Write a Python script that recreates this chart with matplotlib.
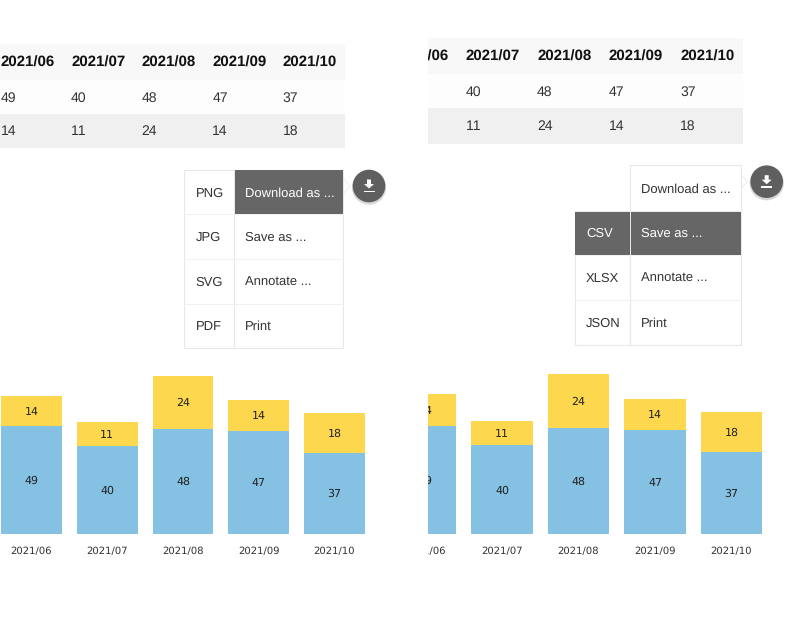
import matplotlib
matplotlib.use("Agg")
import matplotlib.pyplot as plt
from matplotlib.patches import Circle, Polygon, Rectangle

plt.rcParams['font.family'] = ['Liberation Sans', 'DejaVu Sans']
plt.rcParams['text.hinting'] = 'none'
plt.rcParams['text.hinting_factor'] = 1
plt.rcParams['text.kerning_factor'] = 6

months = ['2021/06', '2021/07', '2021/08', '2021/09', '2021/10']
blue_values = [49, 40, 48, 47, 37]
yellow_values = [14, 11, 24, 14, 18]

menu_left_left = ['PNG', 'JPG', 'SVG', 'PDF']
menu_right_left = ['', 'CSV', 'XLSX', 'JSON']
menu_actions = ['Download as ...', 'Save as ...', 'Annotate ...', 'Print']

BLUE = '#85c1e3'
YELLOW = '#fdd84f'
DARK = '#666666'
LINE = '#f1f1f1'

fig = plt.figure(figsize=(8, 6.19), dpi=100, facecolor='white')


def pixel_axes(x0, y0, x1, y1):
    # axes whose data coordinates are the pixels of the picture
    ax = fig.add_axes([x0 / 800, 1 - y1 / 619, (x1 - x0) / 800, (y1 - y0) / 619])
    ax.set_xlim(x0, x1)
    ax.set_ylim(y1, y0)
    ax.axis('off')
    return ax


def draw_table(x0, x1, top, rows, first_x, pitch):
    ax = pixel_axes(x0, top, x1, rows[3])
    ax.add_patch(Rectangle((x0, rows[0]), x1 - x0, rows[1] - rows[0], color='#f8f8f8', lw=0))
    ax.add_patch(Rectangle((x0, rows[1]), x1 - x0, rows[2] - rows[1], color='#fdfdfd', lw=0))
    ax.add_patch(Rectangle((x0, rows[2]), x1 - x0, rows[3] - rows[2], color='#f0f0f0', lw=0))
    for i in range(len(months)):
        x = first_x + i * pitch
        ax.text(x, (rows[0] + rows[1]) / 2 + 1, months[i], fontsize=10.7, fontweight='bold',
                color='#111111', va='center', clip_on=True)
        ax.text(x, (rows[1] + rows[2]) / 2 + 1, str(blue_values[i]), fontsize=10.3,
                color='#333333', va='center', clip_on=True)
        ax.text(x, (rows[2] + rows[3]) / 2 + 0.5, str(yellow_values[i]), fontsize=10.3,
                color='#333333', va='center', clip_on=True)


def draw_bars(x0, x1, base, unit, first_center, pitch, width):
    top, bottom = 360, 570
    ax = fig.add_axes([x0 / 800, 1 - bottom / 619, (x1 - x0) / 800, (bottom - top) / 619])
    ax.set_xlim((x0 - first_center) / pitch, (x1 - first_center) / pitch)
    ax.set_ylim((base - bottom) / unit, (base - top) / unit)
    ax.axis('off')
    pos = list(range(len(months)))
    w = width / pitch
    ax.bar(pos, blue_values, width=w, color=BLUE)
    ax.bar(pos, yellow_values, width=w, bottom=blue_values, color=YELLOW)
    for i in pos:
        ax.text(i, blue_values[i] / 2 - 0.4, str(blue_values[i]), fontsize=7.6, family='DejaVu Sans',
                color='#222222', ha='center', va='center', clip_on=True)
        ax.text(i, blue_values[i] + yellow_values[i] / 2 - 0.4, str(yellow_values[i]), fontsize=7.6,
                family='DejaVu Sans', color='#222222', ha='center', va='center', clip_on=True)
        ax.text(i, -17.5 / unit, months[i], fontsize=7.2, family='DejaVu Sans',
                color='#333333', ha='center', va='center', clip_on=True)


def draw_menu(ui, left, mid, right, rows, top_left, labels, active, active_left):
    # outer boxes
    ui.add_patch(Rectangle((mid, rows[0]), right - mid, rows[4] - rows[0],
                           fc='white', ec='#e8e8e8', lw=0.8))
    ui.add_patch(Rectangle((left, rows[top_left]), mid - left, rows[4] - rows[top_left],
                           fc='white', ec='#e8e8e8', lw=0.8))
    for r in rows[1:4]:
        ui.plot([left if r >= rows[top_left] else mid, right], [r, r], color=LINE, lw=0.7)
    # highlighted row
    ui.add_patch(Rectangle((mid + 0.5, rows[active]), right - mid - 0.5,
                           rows[active + 1] - rows[active], color=DARK, lw=0))
    if active_left:
        ui.add_patch(Rectangle((left, rows[active]), mid - left - 0.5,
                               rows[active + 1] - rows[active], color=DARK, lw=0))
    for i in range(4):
        y = (rows[i] + rows[i + 1]) / 2 + 1.5
        color = 'white' if i == active else '#333333'
        if labels[i]:
            left_color = 'white' if (i == active and active_left) else '#333333'
            ui.text(left + 11.5, y, labels[i], fontsize=9.0, color=left_color, va='center')
        ui.text(mid + 11, y, menu_actions[i], fontsize=9.0, color=color, va='center')


def draw_button(ui, cx, cy, tip_x):
    # small pointer between menu and button
    ui.plot([tip_x, tip_x + 6, tip_x], [cy - 7, cy, cy + 7], color='#f0f0f0', lw=0.8)
    ui.add_patch(Circle((cx, cy + 1.5), 17.2, color='#000000', alpha=0.15, lw=0))
    ui.add_patch(Circle((cx, cy), 16.3, color='#5f5f5f', lw=0))
    ui.add_patch(Polygon([(cx - 2, cy - 6.5), (cx + 2, cy - 6.5), (cx + 2, cy - 2),
                          (cx + 5, cy - 2), (cx, cy + 2.5), (cx - 5, cy - 2),
                          (cx - 2, cy - 2)], color='white', lw=0))
    ui.add_patch(Rectangle((cx - 5.5, cy + 4.5), 11, 1.8, color='white', lw=0))


ui = pixel_axes(0, 0, 800, 619)

draw_table(0, 345.5, 44, [44, 80, 114, 148], 0.5, 70.6)
draw_table(428, 743, 38, [38, 74, 108, 143.5], 394, 71.5)

draw_menu(ui, 184, 234, 343, [170, 213.5, 258.5, 303.5, 347.5], 0, menu_left_left, 0, False)
draw_menu(ui, 574.5, 630, 740.5, [165, 210.5, 254.5, 300, 345], 1, menu_right_left, 1, True)
draw_button(ui, 369, 186, 344)
draw_button(ui, 766.7, 181.7, 741.5)

draw_bars(1, 380, 533.7, 2.19, 31.5, 75.75, 61)
draw_bars(428, 780, 534.3, 2.22, 425.5, 76.5, 61.5)

fig.savefig('out.png', dpi=100)
